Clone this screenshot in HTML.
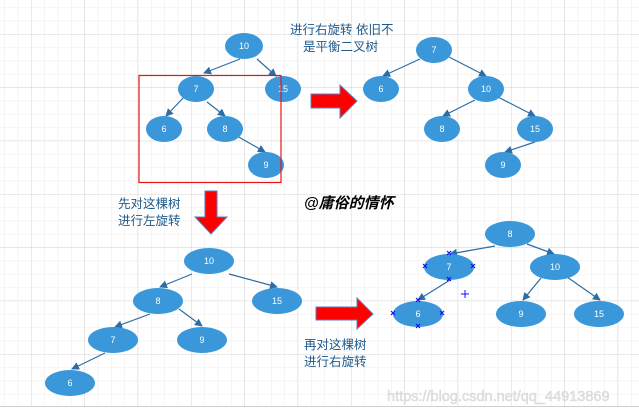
<!DOCTYPE html>
<html><head><meta charset="utf-8"><style>
html,body{margin:0;padding:0;background:#fff;}
svg{display:block;}
</style></head><body>
<svg width="639" height="414" viewBox="0 0 639 414" xmlns="http://www.w3.org/2000/svg" font-family="'Liberation Sans','Noto Sans CJK SC',sans-serif">
<defs>
<pattern id="minor" x="31" y="34" width="13.333" height="13.333" patternUnits="userSpaceOnUse">
<path d="M0 0H13.333M0 0V13.333" stroke="#ececec" stroke-width="1" fill="none"/>
</pattern>
<pattern id="major" x="31" y="34" width="53.333" height="53.333" patternUnits="userSpaceOnUse">
<path d="M0 0H53.333M0 0V53.333" stroke="#d6d6d6" stroke-width="1" fill="none"/>
</pattern>
<marker id="ah" markerWidth="8" markerHeight="8" refX="7" refY="4" orient="auto" markerUnits="userSpaceOnUse">
<path d="M0 0L8 4L0 8z" fill="#2e6da4"/>
</marker>
</defs>
<rect width="639" height="414" fill="#fff"/>
<rect width="639" height="406" fill="url(#minor)"/>
<rect width="639" height="406" fill="url(#major)"/>
<line x1="0" y1="406.5" x2="639" y2="406.5" stroke="#d0d0d0"/>

<g stroke="#2e6da4" stroke-width="1.2" marker-end="url(#ah)">
<!-- tree1 -->
<line x1="240" y1="59" x2="204" y2="73"/>
<line x1="257" y1="59" x2="276" y2="76"/>
<line x1="185" y1="96" x2="166" y2="116"/>
<line x1="207" y1="102" x2="225" y2="116"/>
<line x1="237" y1="136" x2="265" y2="152"/>
<!-- tree2 -->
<line x1="420" y1="59" x2="383" y2="76"/>
<line x1="449" y1="57" x2="486" y2="76"/>
<line x1="475" y1="100" x2="443" y2="116"/>
<line x1="498" y1="97" x2="535" y2="116"/>
<line x1="535" y1="142" x2="505" y2="152"/>
<!-- tree3 -->
<line x1="192" y1="274" x2="160" y2="287"/>
<line x1="229" y1="274" x2="277" y2="287"/>
<line x1="150" y1="314" x2="115" y2="327"/>
<line x1="179" y1="309" x2="202" y2="326"/>
<line x1="105" y1="353" x2="72" y2="369"/>
<!-- tree4 -->
<line x1="495" y1="246" x2="450" y2="254"/>
<line x1="527" y1="244" x2="554" y2="254"/>
<line x1="541" y1="278" x2="523" y2="300"/>
<line x1="567" y1="277" x2="600" y2="300"/>
<line x1="450" y1="280" x2="418" y2="300"/>
</g>

<g fill="#3a97d9">
<ellipse cx="244" cy="46" rx="19" ry="13"/>
<ellipse cx="196" cy="89" rx="18" ry="13"/>
<ellipse cx="283" cy="89" rx="18" ry="13"/>
<ellipse cx="164" cy="129" rx="18" ry="13"/>
<ellipse cx="225" cy="129" rx="18" ry="13"/>
<ellipse cx="266" cy="165" rx="18" ry="13"/>

<ellipse cx="434" cy="50" rx="18" ry="13"/>
<ellipse cx="381" cy="89" rx="18" ry="13"/>
<ellipse cx="486" cy="89" rx="18" ry="13"/>
<ellipse cx="442" cy="129" rx="18" ry="13"/>
<ellipse cx="535" cy="129" rx="18" ry="13"/>
<ellipse cx="503" cy="165" rx="18" ry="13"/>

<ellipse cx="209" cy="261" rx="25" ry="13"/>
<ellipse cx="158" cy="301" rx="25" ry="13"/>
<ellipse cx="277" cy="301" rx="25" ry="13"/>
<ellipse cx="113" cy="340" rx="25" ry="13"/>
<ellipse cx="202" cy="340" rx="25" ry="13"/>
<ellipse cx="70" cy="383" rx="25" ry="13"/>

<ellipse cx="510" cy="234" rx="25" ry="13"/>
<ellipse cx="449" cy="267" rx="25" ry="13"/>
<ellipse cx="555" cy="267" rx="25" ry="13"/>
<ellipse cx="418" cy="314" rx="25" ry="13"/>
<ellipse cx="521" cy="314" rx="25" ry="13"/>
<ellipse cx="599" cy="314" rx="25" ry="13"/>
</g>

<g fill="#fff" font-size="9" text-anchor="middle">
<text x="244" y="49">10</text><text x="196" y="92">7</text><text x="283" y="92">15</text>
<text x="164" y="132">6</text><text x="225" y="132">8</text><text x="266" y="168">9</text>
<text x="434" y="53">7</text><text x="381" y="92">6</text><text x="486" y="92">10</text>
<text x="442" y="132">8</text><text x="535" y="132">15</text><text x="503" y="168">9</text>
<text x="209" y="264">10</text><text x="158" y="304">8</text><text x="277" y="304">15</text>
<text x="113" y="343">7</text><text x="202" y="343">9</text><text x="70" y="386">6</text>
<text x="510" y="237">8</text><text x="449" y="270">7</text><text x="555" y="270">10</text>
<text x="418" y="317">6</text><text x="521" y="317">9</text><text x="599" y="317">15</text>
</g>

<rect x="139" y="75.5" width="142" height="107" fill="none" stroke="#e8141a" stroke-width="1.2"/>

<g fill="#ff0000" stroke="#5b7fc0" stroke-width="1">
<path d="M311 94H340V85L357 101L340 118V108H311Z"/>
<path d="M316 307H357V298L373 314L357 329V320H316Z"/>
<path d="M205 191H217V217H227L211 234L195 217H205Z"/>
</g>

<g fill="#1f5a8c" font-size="12.5">
<text x="290" y="34">进行右旋转 依旧不</text>
<text x="303" y="51">是平衡二叉树</text>
<text x="118" y="208">先对这棵树</text>
<text x="118" y="225">进行左旋转</text>
<text x="304" y="349">再对这棵树</text>
<text x="304" y="366">进行右旋转</text>
</g>
<text x="304" y="208" font-size="15" font-weight="bold" font-style="italic" fill="#000">@庸俗的情怀</text>

<g stroke="#1010ff" stroke-width="1.2">
<path d="M447 251l4 4m0-4l-4 4M423 264l4 4m0-4l-4 4M471 264l4 4m0-4l-4 4M447 277l4 4m0-4l-4 4M416 298l4 4m0-4l-4 4M391 311l4 4m0-4l-4 4M440 311l4 4m0-4l-4 4M416 324l4 4m0-4l-4 4"/>
<path d="M465 290v8M461 294h8" stroke-width="1"/>
</g>

<text x="387" y="401" font-size="14.5" fill="#e4e4e4" stroke="#c8c8c8" stroke-width="0.3">https://blog.csdn.net/qq_44913869</text>
</svg>
</body></html>
